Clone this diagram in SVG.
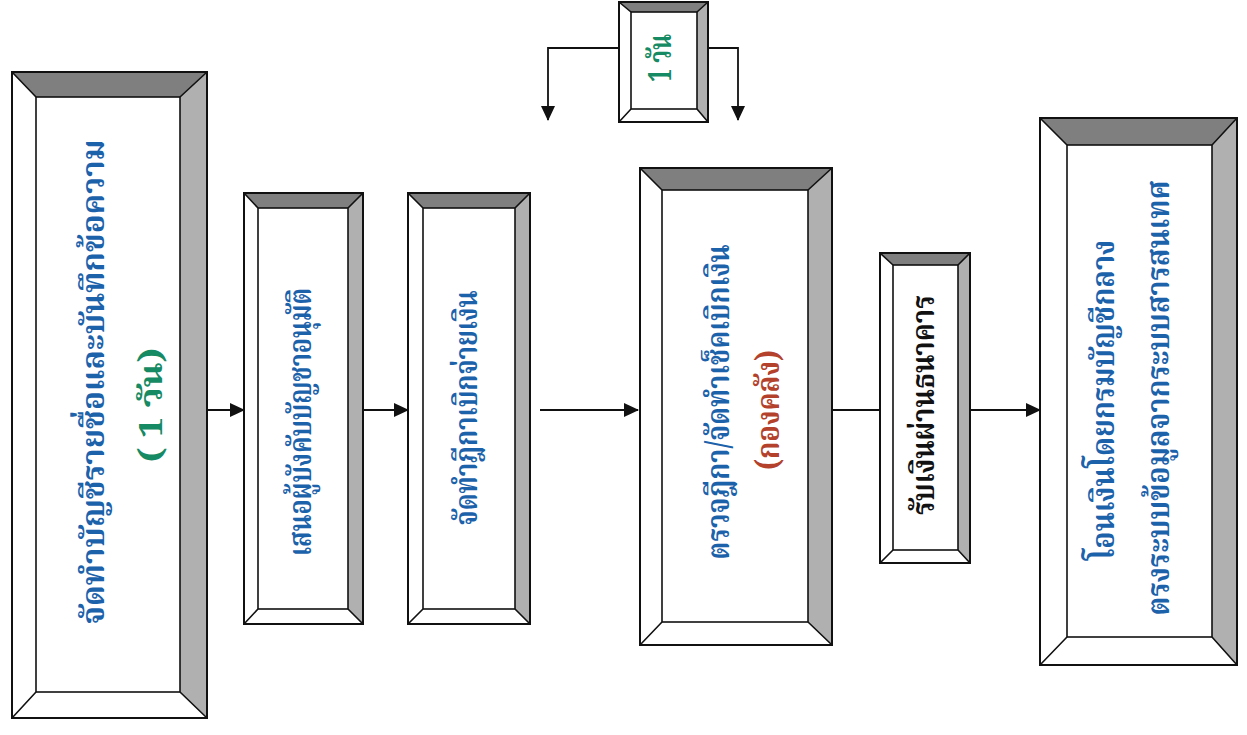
<svg xmlns="http://www.w3.org/2000/svg" width="1247" height="735" viewBox="0 0 1247 735">
<defs>
<marker id="ah" markerWidth="15" markerHeight="14" refX="14" refY="7" orient="auto" markerUnits="userSpaceOnUse">
<path d="M0,0 L15,7 L0,14 Z" fill="#111"/>
</marker>
<style>
.outer{fill:#fff;stroke:#111;stroke-width:2}
.frame{fill:none;stroke:#111;stroke-width:2}
.inner{fill:#fff;stroke:#111;stroke-width:1.6}
.top{fill:#7f7f7f}
.right{fill:#b0b0b0}
.diag{stroke:#111;stroke-width:1.6;fill:none}
.con{stroke:#111;stroke-width:1.8;fill:none}
text{font-family:"Noto Serif Thai","Noto Sans Thai","Noto Sans","Liberation Serif",serif;font-weight:bold;text-anchor:middle;dominant-baseline:central;font-size:32px}
.blue{fill:#1c62ab}
.green{fill:#168a63}
.red{fill:#b3412c}
.black{fill:#111}
</style>
</defs>
<rect width="1247" height="735" fill="#fff"/>
<g id="connectors">
<line class="con" x1="207" y1="410" x2="244" y2="410" marker-end="url(#ah)"/>
<line class="con" x1="363" y1="410" x2="408" y2="410" marker-end="url(#ah)"/>
<line class="con" x1="540" y1="410" x2="638" y2="410" marker-end="url(#ah)"/>
<line class="con" x1="832" y1="410" x2="880" y2="410"/>
<line class="con" x1="970" y1="410" x2="1040" y2="410" marker-end="url(#ah)"/>
<polyline class="con" points="619,48 548,48 548,120" marker-end="url(#ah)"/>
<polyline class="con" points="708,48 738,48 738,120" marker-end="url(#ah)"/>
</g>
<g id="node1">
<rect class="outer" x="12" y="72" width="195" height="646"/>
<polygon class="top" points="12,72 207,72 180,97 36,97"/>
<polygon class="right" points="207,72 207,718 180,692 180,97"/>
<rect class="inner" x="36" y="97" width="144" height="595"/>
<path class="diag" d="M12,72L36,97M207,72L180,97M207,718L180,692M12,718L36,692"/>
<rect class="frame" x="12" y="72" width="195" height="646"/>
<text class="blue" transform="translate(95,382) rotate(-90)" textLength="485" lengthAdjust="spacingAndGlyphs">จัดทำบัญชีรายชื่อและบันทึกข้อความ</text>
<text class="green" transform="translate(153,405) rotate(-90)" textLength="115" lengthAdjust="spacingAndGlyphs">( 1 วัน)</text>
</g>
<g id="node2">
<rect class="outer" x="244" y="193" width="119" height="431"/>
<polygon class="top" points="244,193 363,193 348,208 258,208"/>
<polygon class="right" points="363,193 363,624 348,609 348,208"/>
<rect class="inner" x="258" y="208" width="90" height="401"/>
<path class="diag" d="M244,193L258,208M363,193L348,208M363,624L348,609M244,624L258,609"/>
<rect class="frame" x="244" y="193" width="119" height="431"/>
<text class="blue" transform="translate(302,422) rotate(-90)" textLength="268" lengthAdjust="spacingAndGlyphs">เสนอผู้บังคับบัญชาอนุมัติ</text>
</g>
<g id="node3">
<rect class="outer" x="408" y="193" width="122" height="431"/>
<polygon class="top" points="408,193 530,193 515,208 423,208"/>
<polygon class="right" points="530,193 530,624 515,609 515,208"/>
<rect class="inner" x="423" y="208" width="92" height="401"/>
<path class="diag" d="M408,193L423,208M530,193L515,208M530,624L515,609M408,624L423,609"/>
<rect class="frame" x="408" y="193" width="122" height="431"/>
<text class="blue" transform="translate(468,408) rotate(-90)" textLength="235" lengthAdjust="spacingAndGlyphs">จัดทำฎีกาเบิกจ่ายเงิน</text>
</g>
<g id="node4">
<rect class="outer" x="640" y="168" width="192" height="477"/>
<polygon class="top" points="640,168 832,168 808,190 662,190"/>
<polygon class="right" points="832,168 832,645 808,622 808,190"/>
<rect class="inner" x="662" y="190" width="146" height="432"/>
<path class="diag" d="M640,168L662,190M832,168L808,190M832,645L808,622M640,645L662,622"/>
<rect class="frame" x="640" y="168" width="192" height="477"/>
<text class="blue" transform="translate(720,402) rotate(-90)" textLength="315" lengthAdjust="spacingAndGlyphs">ตรวจฎีกา/จัดทำเช็คเบิกเงิน</text>
<text class="red" transform="translate(770,410) rotate(-90)" textLength="120" lengthAdjust="spacingAndGlyphs">(กองคลัง)</text>
</g>
<g id="node5">
<rect class="outer" x="880" y="253" width="90" height="310"/>
<polygon class="top" points="880,253 970,253 958,265 893,265"/>
<polygon class="right" points="970,253 970,563 958,550 958,265"/>
<rect class="inner" x="893" y="265" width="65" height="285"/>
<path class="diag" d="M880,253L893,265M970,253L958,265M970,563L958,550M880,563L893,550"/>
<rect class="frame" x="880" y="253" width="90" height="310"/>
<text class="black" transform="translate(925,405) rotate(-90)" textLength="220" lengthAdjust="spacingAndGlyphs">รับเงินผ่านธนาคาร</text>
</g>
<g id="node6">
<rect class="outer" x="1040" y="118" width="197" height="547"/>
<polygon class="top" points="1040,118 1237,118 1212,145 1067,145"/>
<polygon class="right" points="1237,118 1237,665 1212,637 1212,145"/>
<rect class="inner" x="1067" y="145" width="145" height="492"/>
<path class="diag" d="M1040,118L1067,145M1237,118L1212,145M1237,665L1212,637M1040,665L1067,637"/>
<rect class="frame" x="1040" y="118" width="197" height="547"/>
<text class="blue" transform="translate(1105,400) rotate(-90)" textLength="320" lengthAdjust="spacingAndGlyphs">โอนเงินโดยกรมบัญชีกลาง</text>
<text class="blue" transform="translate(1160,398) rotate(-90)" textLength="435" lengthAdjust="spacingAndGlyphs">ตรงระบบข้อมูลจากระบบสารสนเทศ</text>
</g>
<g id="node7">
<rect class="outer" x="619" y="2" width="89" height="120"/>
<polygon class="top" points="619,2 708,2 697,12 631,12"/>
<polygon class="right" points="708,2 708,122 697,109 697,12"/>
<rect class="inner" x="631" y="12" width="66" height="97"/>
<path class="diag" d="M619,2L631,12M708,2L697,12M708,122L697,109M619,122L631,109"/>
<rect class="frame" x="619" y="2" width="89" height="120"/>
<text class="green" transform="translate(662,58) rotate(-90)" textLength="48" lengthAdjust="spacingAndGlyphs">1 วัน</text>
</g>
</svg>
